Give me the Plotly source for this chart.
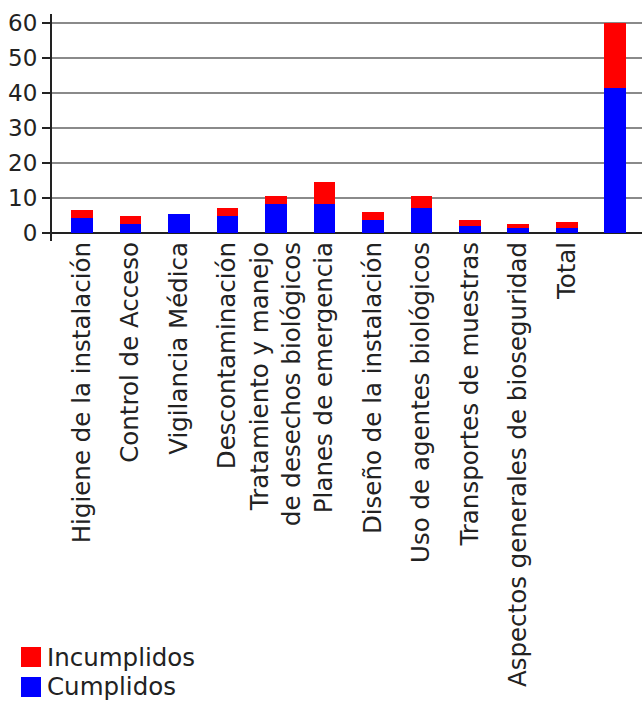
import plotly.graph_objects as go

# Category labels (the last bar carries no label)
labels = [
    "Higiene de la instalación",
    "Control de Acceso",
    "Vigilancia Médica",
    "Descontaminación",
    "Tratamiento y manejo<br>de desechos biológicos",
    "Planes de emergencia",
    "Diseño de la instalación",
    "Uso de agentes biológicos",
    "Transportes de muestras",
    "Aspectos generales de bioseguridad",
    "Total",
    "",
]

cumplidos = [4.2, 2.6, 5.4, 4.9, 8.3, 8.4, 3.7, 7.1, 2.0, 1.3, 1.3, 41.4]
incumplidos = [2.4, 2.2, 0.0, 2.2, 2.3, 6.2, 2.3, 3.4, 1.7, 1.2, 1.8, 18.5]

y_ticks = [0, 10, 20, 30, 40, 50, 60]

positions = list(range(len(cumplidos)))

FONT = "DejaVu Sans"
TEXT = "#222222"
RED = "#FF0000"
BLUE = "#0000FF"

W, H = 642, 701
M_L, M_R, M_T, M_B = 52, 0, 14, 460
PLOT_W = W - M_L - M_R
PLOT_H = H - M_T - M_B

fig = go.Figure()
fig.add_trace(go.Bar(x=positions, y=cumplidos, name="Cumplidos",
                     marker=dict(color=BLUE, line=dict(width=0)),
                     width=0.45))
fig.add_trace(go.Bar(x=positions, y=incumplidos, name="Incumplidos",
                     marker=dict(color=RED, line=dict(width=0)),
                     width=0.45))


def px_x(px):
    return (px - M_L) / PLOT_W


def px_y(py):
    return (H - M_B - py) / PLOT_H


# Legend block in the lower-left corner: swatch + series name, Incumplidos first
legend_items = [("Incumplidos", RED), ("Cumplidos", BLUE)]
for i, (name, color) in enumerate(legend_items):
    top = 647 + 30 * i
    fig.add_shape(type="rect", xref="paper", yref="paper",
                  x0=px_x(21), x1=px_x(41), y0=px_y(top + 20), y1=px_y(top),
                  fillcolor=color, line=dict(width=0), layer="above")
    fig.add_annotation(xref="paper", yref="paper", x=px_x(45), y=px_y(top + 10),
                       xanchor="left", yanchor="middle", showarrow=False,
                       text=name, font=dict(family=FONT, size=24.5, color=TEXT))

fig.update_layout(
    width=W, height=H,
    margin=dict(l=M_L, r=M_R, t=M_T, b=M_B),
    barmode="stack",
    showlegend=False,
    plot_bgcolor="white",
    paper_bgcolor="white",
    font=dict(family=FONT, size=23, color=TEXT),
    xaxis=dict(
        range=[-0.62, 11.55],
        tickmode="array",
        tickvals=positions,
        ticktext=labels,
        tickangle=-90,
        ticks="",
        ticklabelstandoff=-5,
        showgrid=False,
        showline=False,
        zeroline=False,
        automargin=False,
        tickfont=dict(family=FONT, size=24.5, color=TEXT),
    ),
    yaxis=dict(
        range=[-2.29, 62.57],
        tickmode="array",
        tickvals=y_ticks,
        ticks="outside",
        ticklen=8,
        tickwidth=2,
        tickcolor=TEXT,
        showline=True,
        linecolor=TEXT,
        linewidth=2,
        showgrid=True,
        gridcolor="#8a8a8a",
        gridwidth=2,
        zeroline=True,
        zerolinecolor=TEXT,
        zerolinewidth=2,
        automargin=False,
        tickfont=dict(family=FONT, size=23, color=TEXT),
    ),
)

fig.write_html("out.html")
